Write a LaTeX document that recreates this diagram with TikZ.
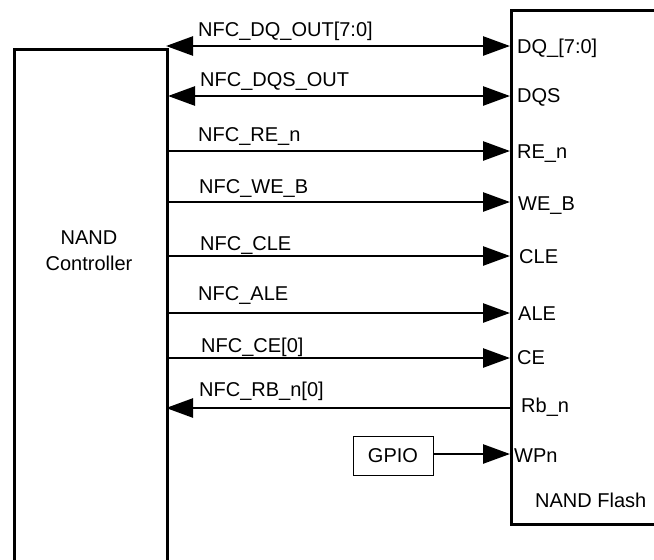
\documentclass[tikz,border=0pt]{standalone}
\usepackage{fontspec}
\setmainfont{Liberation Sans}
\usetikzlibrary{arrows.meta}
\begin{document}
\begin{tikzpicture}[x=1pt,y=-1pt,
  blk/.style={draw, line width=2.6pt, inner sep=0pt, anchor=north west},
  tipshape/.tip={Triangle[length=27pt,width=19pt]},
  sig/.style={line width=2.6pt, -tipshape},
  bisig/.style={line width=2.6pt, tipshape-tipshape},
  lbl/.style={anchor=base west, inner sep=0pt, font=\fontsize{20pt}{24pt}\selectfont},
  ctext/.style={anchor=base, inner sep=0pt, font=\fontsize{20pt}{24pt}\selectfont},
  gpiobox/.style={draw, line width=0.8pt, minimum width=80pt, minimum height=39pt, inner sep=0pt, font=\fontsize{20pt}{24pt}\selectfont}]
\useasboundingbox (0,0) rectangle (654,560);
\clip (0,0) rectangle (654,560);
% blocks
\node[blk, minimum width=153pt, minimum height=600pt] (ctrl) at (13,48) {};
\node[blk, minimum width=200pt, minimum height=514pt] (flash) at (510,9) {};
\node[ctext] (ctrlA) at (89,244) {NAND};
\node[ctext] (ctrlB) at (89,270) {Controller};
\node[lbl] (flashname) at (535,507) {NAND Flash};
\node[gpiobox] (gpio) at (393,456) {GPIO};
% pin coordinates
\coordinate (cDQ) at (166,46);   \coordinate (fDQ) at (510,46);
\coordinate (cDQS) at (168,96);  \coordinate (fDQS) at (510,96);
\coordinate (cRE) at (166,151);  \coordinate (fRE) at (510,151);
\coordinate (cWE) at (166,202);  \coordinate (fWE) at (510,202);
\coordinate (cCLE) at (166,256); \coordinate (fCLE) at (510,256);
\coordinate (cALE) at (166,313); \coordinate (fALE) at (510,313);
\coordinate (cCE) at (166,358);  \coordinate (fCE) at (510,358);
\coordinate (cRB) at (166,408);  \coordinate (fRB) at (510,408);
\coordinate (fWP) at (510,454);
% connectors
\draw[bisig] (cDQ) -- (fDQ);
\draw[bisig] (cDQS) -- (fDQS);
\draw[sig] (cRE) -- (fRE);
\draw[sig] (cWE) -- (fWE);
\draw[sig] (cCLE) -- (fCLE);
\draw[sig] (cALE) -- (fALE);
\draw[sig] (cCE) -- (fCE);
\draw[sig] (fRB) -- (cRB);
\draw[sig] (gpio.east |- fWP) -- (fWP);
% signal labels (controller side)
\node[lbl] (lDQ) at (198,36) {NFC\_DQ\_OUT[7:0]};
\node[lbl] (lDQS) at (200,86) {NFC\_DQS\_OUT};
\node[lbl] (lRE) at (198,141) {NFC\_RE\_n};
\node[lbl] (lWE) at (199,193) {NFC\_WE\_B};
\node[lbl] (lCLE) at (200,250) {NFC\_CLE};
\node[lbl] (lALE) at (198,300) {NFC\_ALE};
\node[lbl] (lCE) at (201,352) {NFC\_CE[0]};
\node[lbl] (lRB) at (199,396) {NFC\_RB\_n[0]};
% pin labels (flash side)
\node[lbl] (pDQ) at (517,53) {DQ\_[7:0]};
\node[lbl] (pDQS) at (517,102) {DQS};
\node[lbl] (pRE) at (517,158) {RE\_n};
\node[lbl] (pWE) at (518,210) {WE\_B};
\node[lbl] (pCLE) at (519,263) {CLE};
\node[lbl] (pALE) at (518,320) {ALE};
\node[lbl] (pCE) at (517,364) {CE};
\node[lbl] (pRB) at (521,412) {Rb\_n};
\node[lbl] (pWP) at (514,462) {WPn};
\end{tikzpicture}
\end{document}
